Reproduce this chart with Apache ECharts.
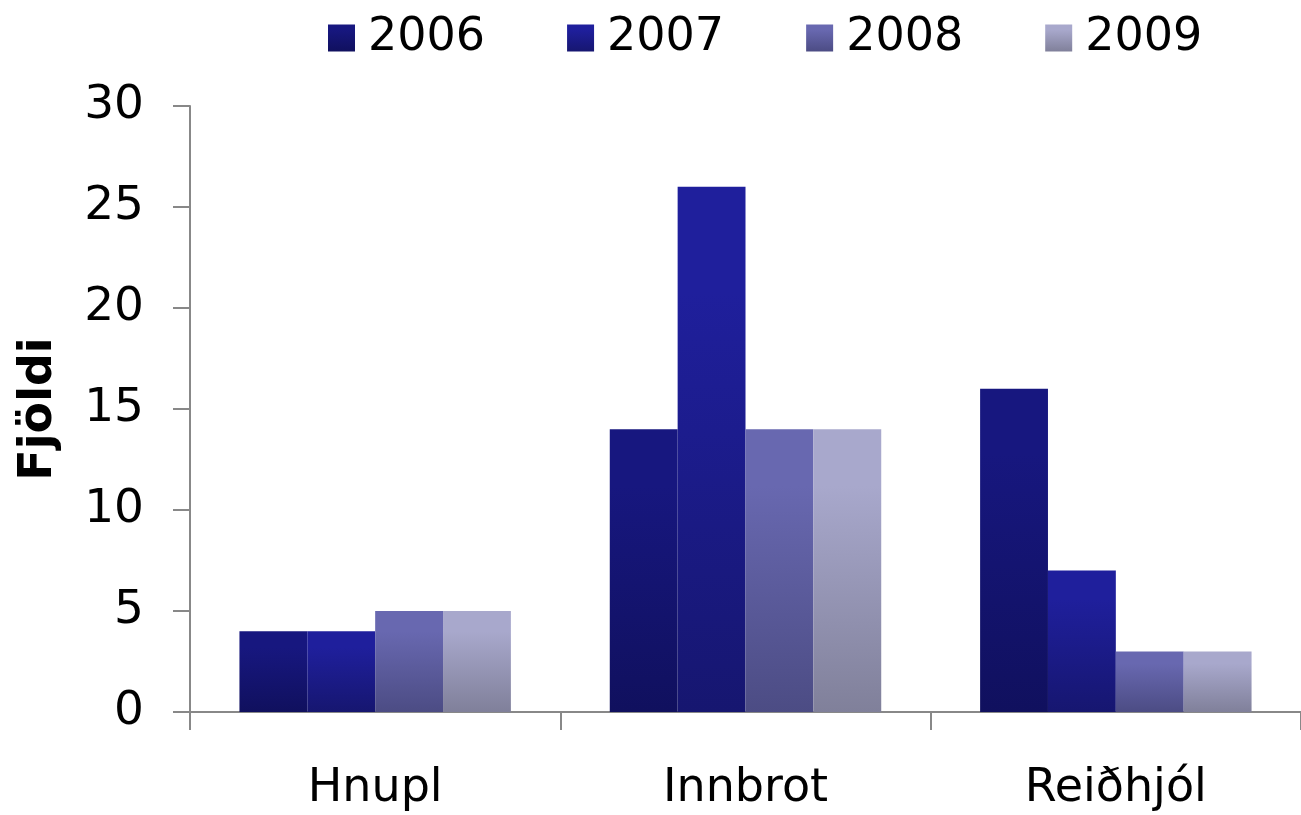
<!DOCTYPE html>
<html>
<head>
<meta charset="utf-8">
<script src="https://cdn.jsdelivr.net/npm/echarts@6/dist/echarts.min.js"></script>
<style>
  html, body { margin: 0; padding: 0; background: #fff; }
  #chart { width: 1301px; height: 815px; }
</style>
</head>
<body>
<div id="chart"></div>
<script>
const categories = ["Hnupl", "Innbrot", "Reiðhjól"];
const years = ["2006", "2007", "2008", "2009"];
const values2006 = [4, 14, 16];
const values2007 = [4, 26, 7];
const values2008 = [5, 14, 3];
const values2009 = [5, 14, 3];
const yTicks = [0, 5, 10, 15, 20, 25, 30];

// top / bottom colour of each year's bar gradient
const shades = [
  ["#17177f", "#10105e"],
  ["#1f1f9c", "#161670"],
  ["#6868b0", "#4c4c84"],
  ["#a8a8cc", "#80809a"],
];

function grad(pair) {
  return new echarts.graphic.LinearGradient(0, 0, 0, 1, [
    { offset: 0, color: pair[0] },
    { offset: 0.2, color: pair[0] },
    { offset: 1, color: pair[1] },
  ]);
}

const allValues = [values2006, values2007, values2008, values2009];
const font = "DejaVu Sans, Verdana, sans-serif";

const chart = echarts.init(document.getElementById("chart"));
chart.setOption({
  backgroundColor: "#fff",
  animation: false,
  legend: {
    top: 10,
    left: 323,
    itemWidth: 27,
    itemHeight: 27,
    itemGap: 82,
    icon: "rect",
    textStyle: { fontFamily: font, fontSize: 46, color: "#000", padding: [0, 0, 0, 8] },
    data: years,
  },
  grid: { left: 190, width: 1121, top: 106, bottom: 103 },
  xAxis: {
    type: "category",
    data: categories,
    axisLine: { lineStyle: { color: "#888", width: 2 } },
    axisTick: { show: true, length: 18, lineStyle: { color: "#888", width: 2 } },
    axisLabel: { fontFamily: font, fontSize: 46, color: "#000", margin: 54 },
  },
  yAxis: {
    type: "value",
    min: yTicks[0],
    max: yTicks[yTicks.length - 1],
    interval: 5,
    name: "Fjöldi",
    nameLocation: "middle",
    nameGap: 128,
    nameTextStyle: { fontFamily: font, fontSize: 46, fontWeight: "bold", color: "#000" },
    axisLine: { show: true, lineStyle: { color: "#888", width: 2 } },
    axisTick: { show: true, length: 17, lineStyle: { color: "#888", width: 2 } },
    axisLabel: { fontFamily: font, fontSize: 47, color: "#000", margin: 46 },
    splitLine: { show: false },
  },
  series: years.map((y, i) => ({
    name: y,
    type: "bar",
    data: allValues[i],
    barGap: "0%",
    barCategoryGap: "26.7%",
    itemStyle: { color: grad(shades[i]) },
  })),
});
</script>
</body>
</html>
